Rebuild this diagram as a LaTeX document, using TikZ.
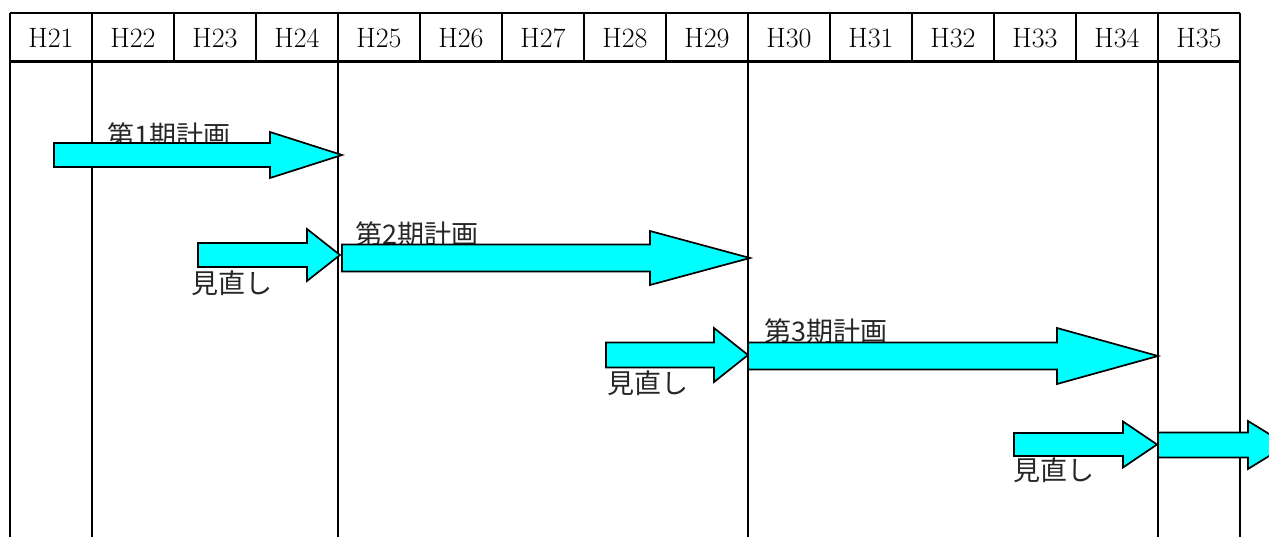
\documentclass[tikz,border=0pt]{standalone}
\usepackage{fontspec}
\newfontfamily\jpfont{Noto Sans CJK JP}
\definecolor{aqua}{RGB}{0,255,255}
\tikzset{
  grid line/.style={line width=2.2pt, black},
  hdr/.style={font=\fontsize{28}{30}\selectfont, inner sep=0pt},
  lbl/.style={font=\jpfont\fontsize{27}{30}\selectfont, inner sep=0pt, anchor=base west, text=black!85},
  arrowshape/.style={draw=black, fill=aqua, line width=1.7pt, line join=miter},
}
% tail x, head x, tip x, center y, body half, head half
\newcommand{\blockarr}[6]{%
  \draw[arrowshape] ({#1},{#4-#5}) -- ({#2},{#4-#5}) -- ({#2},{#4-#6}) -- ({#3},{#4})
    -- ({#2},{#4+#6}) -- ({#2},{#4+#5}) -- ({#1},{#4+#5}) -- cycle;}
\begin{document}
\begin{tikzpicture}[x=1pt,y=-1pt]
\useasboundingbox (0,0) rectangle (1269,536);
\clip (0,0) rectangle (1269,536);
% header row
\draw[grid line] (10,13) -- (1240,13);
\draw[grid line] (10,61.5) -- (1240,61.5);
\foreach \i in {0,...,15} {
  \draw[grid line] ({10+82*\i},13) -- ({10+82*\i},61.5);
}
\foreach \i in {0,...,14} {
  \pgfmathtruncatemacro{\yr}{21+\i}
  \node[hdr] (h\yr) at ({51+82*\i},38) {H\yr};
}
% long vertical lines
\foreach \xx in {10,92,338,748,1158,1240} {
  \draw[grid line] (\xx,61.5) -- (\xx,540);
}
% labels
\node[lbl] (p1) at (107,145) {第1期計画};
\node[lbl] (p2) at (355,244) {第2期計画};
\node[lbl] (p3) at (764,341) {第3期計画};
\node[lbl] (r1) at (191,293) {見直し};
\node[lbl] (r2) at (607,393) {見直し};
\node[lbl] (r3) at (1013,480) {見直し};
% arrows
\blockarr{54}{270}{342}{155}{12}{23}
\blockarr{198}{307}{340}{255}{12}{26}
\blockarr{342}{650}{750}{258}{13.5}{27}
\blockarr{606}{714}{748}{355}{12.5}{27}
\blockarr{748}{1057}{1158}{356}{13.5}{28}
\blockarr{1014}{1123}{1157}{444.5}{11.5}{23}
\blockarr{1158}{1248}{1287}{445}{12.5}{24}
\end{tikzpicture}
\end{document}
